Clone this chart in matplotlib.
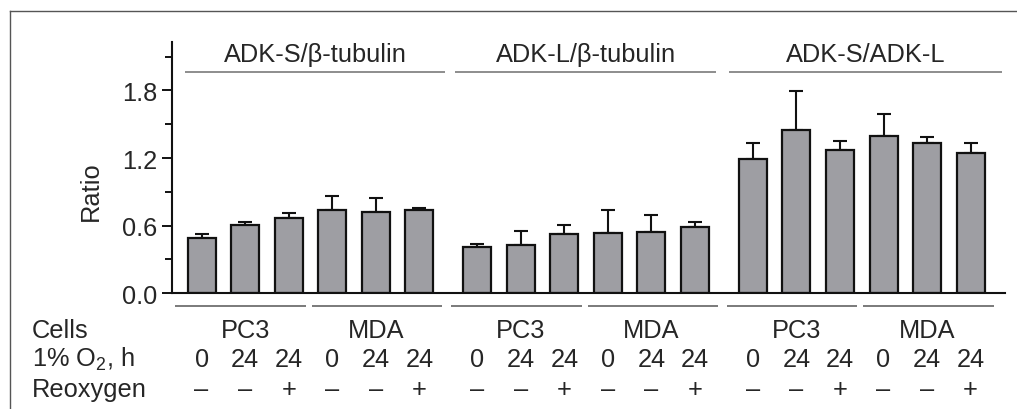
import matplotlib
matplotlib.use('Agg')
import matplotlib.pyplot as plt
from matplotlib.transforms import blended_transform_factory
from matplotlib.lines import Line2D
import numpy as np

plt.rcParams['font.family'] = ['Liberation Sans', 'DejaVu Sans']
plt.rcParams['mathtext.default'] = 'regular'

# ---------------- data ----------------
ratio_names = ['ADK-S/\u03b2-tubulin', 'ADK-L/\u03b2-tubulin', 'ADK-S/ADK-L']
cell_lines = ['PC3', 'MDA']
hypoxia_h = ['0', '24', '24']
reoxygen = ['\u2013', '\u2013', '+']

s_tub_mean = [0.49, 0.61, 0.67, 0.74, 0.725, 0.74]
s_tub_err = [0.033, 0.023, 0.042, 0.123, 0.118, 0.014]

l_tub_mean = [0.408, 0.429, 0.523, 0.535, 0.544, 0.591]
l_tub_err = [0.032, 0.127, 0.080, 0.201, 0.151, 0.039]

s_l_mean = [1.194, 1.449, 1.272, 1.396, 1.334, 1.242]
s_l_err = [0.142, 0.349, 0.077, 0.195, 0.056, 0.089]

means = [s_tub_mean, l_tub_mean, s_l_mean]
errs = [s_tub_err, l_tub_err, s_l_err]

y_major = [0.0, 0.6, 1.2, 1.8]
y_minor = [0.3, 0.9, 1.5, 2.1]

# ---------------- layout ----------------
W, H = 1017, 410
GROUP_STEP = 6.33
BAR_W = 0.643
HEADER_SPANS = [(-0.38, 5.59), (-0.51, 5.49), (-0.54, 5.73)]
SUB_SPANS = [(-0.6, 2.4), (2.54, 5.53)]
FS = 18.3
TXT = '#262626'
BAR_C = '#9e9ea3'
LINE_C = '#7a7a7a'


def fx(px):
    return px / W


def fy(px):
    return 1 - px / H


fig = plt.figure(figsize=(W / 100, H / 100), dpi=100)
ax = fig.add_axes([fx(172), fy(294.3), fx(1005) - fx(172), (294.3 - 43.3) / H])
trans = blended_transform_factory(ax.transData, fig.transFigure)

for g in range(3):
    x = g * GROUP_STEP + np.arange(6)
    m = np.array(means[g])
    e = np.array(errs[g])
    ax.errorbar(x, m, yerr=[np.zeros_like(e), e], fmt='none', ecolor='#111111',
                elinewidth=1.5, capsize=4.8, capthick=1.5, zorder=1)
    ax.bar(x, m, width=BAR_W, color=BAR_C, edgecolor='#111111', linewidth=1.6, zorder=2)

    # header
    a, b = HEADER_SPANS[g]
    x0 = g * GROUP_STEP
    ax.plot([x0 + a, x0 + b], [fy(72.5)] * 2, transform=trans, color=LINE_C,
            lw=1.2, clip_on=False, solid_capstyle='butt')
    ax.text(x0 + (a + b) / 2, fy(62), ratio_names[g], transform=trans,
            ha='center', va='baseline', fontsize=FS, color=TXT)

    # sub groups (cells)
    for k in range(2):
        sa, sb = SUB_SPANS[k]
        ax.plot([x0 + sa, x0 + sb], [fy(306.5)] * 2, transform=trans,
                color=LINE_C, lw=1.4, clip_on=False, solid_capstyle='butt')
        ax.text(x0 + 3 * k + 1, fy(338), cell_lines[k], transform=trans,
                ha='center', va='baseline', fontsize=FS, color=TXT)
        for j in range(3):
            xc = x0 + 3 * k + j
            ax.text(xc, fy(367), hypoxia_h[j], transform=trans,
                    ha='center', va='baseline', fontsize=FS, color=TXT)
            ax.text(xc, fy(397), reoxygen[j], transform=trans,
                    ha='center', va='baseline', fontsize=FS, color=TXT)

ax.set_xlim(-0.68, 18.45)
ax.set_ylim(0, 2.227)
ax.set_xticks([])
ax.set_yticks(y_major)
ax.set_yticklabels([f'{v:.1f}' for v in y_major])
ax.set_yticks(y_minor, minor=True)
ax.tick_params(axis='y', which='major', length=7.2, width=1.4, pad=3.6,
               labelsize=FS, labelcolor=TXT, color='#111111')
ax.tick_params(axis='y', which='minor', length=4.8, width=1.4, color='#111111')
for s in ['top', 'right']:
    ax.spines[s].set_visible(False)
for s in ['left', 'bottom']:
    ax.spines[s].set_linewidth(1.5)
    ax.spines[s].set_color('#111111')

fig.text(fx(91), fy(191), 'Ratio', rotation=90, ha='center', va='center',
         fontsize=FS, color=TXT)

fig.text(fx(32), fy(338), 'Cells', ha='left', va='baseline', fontsize=FS, color=TXT)
fig.text(fx(32), fy(367), r'1% O$_\mathregular{2}$, h', ha='left', va='baseline',
         fontsize=FS, color=TXT)
fig.text(fx(32), fy(397), 'Reoxygen', ha='left', va='baseline', fontsize=FS, color=TXT)

# figure frame (left and top edges visible)
fig.add_artist(Line2D([fx(10), fx(10)], [fy(12), 0], transform=fig.transFigure,
                      color='#555555', lw=1.0))
fig.add_artist(Line2D([fx(10), 1], [fy(12), fy(12)], transform=fig.transFigure,
                      color='#555555', lw=1.0))

fig.savefig('out.png', dpi=100)
